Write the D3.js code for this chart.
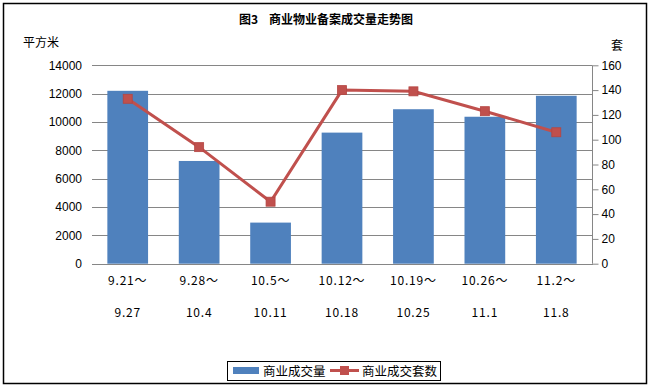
<!DOCTYPE html>
<html>
<head>
<meta charset="utf-8">
<script src="https://cdn.jsdelivr.net/npm/d3@7"></script>
<style>
  body { margin: 0; background: #fff; }
  text { font-family: "Liberation Sans", "Noto Sans CJK SC", sans-serif; }
  .cjk { font-family: "Noto Sans CJK SC", sans-serif; }
</style>
</head>
<body>
<svg id="chart"></svg>
<script>
// data
const periodStart = ["9.21～", "9.28～", "10.5～", "10.12～", "10.19～", "10.26～", "11.2～"];
const periodEnd = ["9.27", "10.4", "10.11", "10.18", "10.25", "11.1", "11.8"];
const areaValues = [12200, 7250, 2900, 9250, 10900, 10370, 11850];
const unitValues = [133, 94, 50, 140, 139, 123, 106];
const leftTicks = [0, 2000, 4000, 6000, 8000, 10000, 12000, 14000];
const rightTicks = [0, 20, 40, 60, 80, 100, 120, 140, 160];

const w = 651, h = 388;
const svg = d3.select("#chart").attr("width", w).attr("height", h);

// outer frame
svg.append("rect")
  .attr("x", 3.5).attr("y", 3.5)
  .attr("width", 643).attr("height", 380)
  .attr("fill", "#fff").attr("stroke", "#000").attr("stroke-width", 1.5);

// scales
const pLeft = 92, pRight = 592, pTop = 65.3, pBottom = 263.7;
const x = d3.scaleBand().domain(periodStart).range([pLeft, pRight]).paddingInner(0.43).paddingOuter(0.215);
const xBand = d3.scaleBand().domain(periodStart).range([pLeft, pRight]);
const yL = d3.scaleLinear().domain([0, 14000]).range([pBottom, pTop]);
const yR = d3.scaleLinear().domain([0, 160]).range([pBottom, pTop]);

// gridlines
svg.append("g")
  .selectAll("line")
  .data(leftTicks.filter(d => d > 0))
  .join("line")
    .attr("x1", pLeft).attr("x2", pRight)
    .attr("y1", d => Math.round(yL(d)) + 0.5).attr("y2", d => Math.round(yL(d)) + 0.5)
    .attr("stroke", "#868686");

// left tick labels
svg.append("g")
  .selectAll("text")
  .data(leftTicks)
  .join("text")
    .attr("x", 82).attr("y", d => yL(d))
    .attr("dy", "0.35em")
    .attr("text-anchor", "end")
    .attr("font-size", 12)
    .attr("fill", "#000")
    .text(d => d);

// bars
svg.append("g")
  .selectAll("rect")
  .data(areaValues)
  .join("rect")
    .attr("x", (d, i) => x(periodStart[i]))
    .attr("width", x.bandwidth())
    .attr("y", d => yL(d))
    .attr("height", d => pBottom - yL(d))
    .attr("fill", "#4F81BD");

// x axis line
svg.append("line")
  .attr("x1", pLeft).attr("x2", pRight + 1)
  .attr("y1", Math.round(pBottom) + 0.5).attr("y2", Math.round(pBottom) + 0.5)
  .attr("stroke", "#868686");

// right axis
const rAxis = svg.append("g").attr("transform", `translate(${pRight + 0.5},0)`)
  .call(d3.axisRight(yR).tickValues(rightTicks).tickSize(6).tickPadding(3));
rAxis.select(".domain").attr("stroke", "#868686").attr("d", `M0,${pTop}V${pBottom}`);
rAxis.selectAll(".tick line").attr("stroke", "#868686");
rAxis.selectAll(".tick text").attr("font-size", 12).attr("fill", "#000")
  .attr("font-family", "Liberation Sans, sans-serif");

// x labels, two lines
const xl = svg.append("g");
xl.selectAll("text.s")
  .data(periodStart)
  .join("text")
    .attr("class", "s cjk")
    .attr("x", d => xBand(d) + xBand.bandwidth() / 2)
    .attr("y", 285)
    .attr("text-anchor", "middle")
    .attr("font-size", 12)
    .attr("letter-spacing", 0.8)
    .text(d => d);
xl.selectAll("text.e")
  .data(periodEnd)
  .join("text")
    .attr("class", "e cjk")
    .attr("x", (d, i) => xBand(periodStart[i]) + xBand.bandwidth() / 2)
    .attr("y", 317)
    .attr("text-anchor", "middle")
    .attr("font-size", 12)
    .attr("letter-spacing", 0.8)
    .text(d => d);

// line series
const line = d3.line()
  .x((d, i) => xBand(periodStart[i]) + xBand.bandwidth() / 2)
  .y(d => yR(d));
svg.append("path")
  .datum(unitValues)
  .attr("d", line)
  .attr("fill", "none")
  .attr("stroke", "#C0504D")
  .attr("stroke-width", 3);
svg.append("g")
  .selectAll("rect")
  .data(unitValues)
  .join("rect")
    .attr("x", (d, i) => xBand(periodStart[i]) + xBand.bandwidth() / 2 - 4.5)
    .attr("y", d => yR(d) - 4.5)
    .attr("width", 9).attr("height", 9)
    .attr("fill", "#C0504D")
    .attr("stroke", "#B54542").attr("stroke-width", 0.8);

// titles
svg.append("text")
  .attr("class", "cjk")
  .attr("x", 326).attr("y", 24)
  .attr("text-anchor", "middle")
  .attr("font-size", 12).attr("font-weight", "bold")
  .text("图3\u00A0\u00A0\u00A0\u00A0商业物业备案成交量走势图");
svg.append("text")
  .attr("class", "cjk")
  .attr("x", 23).attr("y", 47)
  .attr("font-size", 12)
  .text("平方米");
svg.append("text")
  .attr("class", "cjk")
  .attr("x", 611).attr("y", 50)
  .attr("font-size", 12)
  .text("套");

// legend
const lg = svg.append("g");
lg.append("rect")
  .attr("x", 227.5).attr("y", 361.5).attr("width", 213).attr("height", 19)
  .attr("fill", "#fff").attr("stroke", "#000").attr("stroke-width", 1);
lg.append("rect")
  .attr("x", 233).attr("y", 367).attr("width", 26).attr("height", 7)
  .attr("fill", "#4F81BD");
lg.append("text")
  .attr("class", "cjk")
  .attr("x", 263).attr("y", 375.5)
  .attr("font-size", 12.5)
  .text("商业成交量");
lg.append("line")
  .attr("x1", 330).attr("x2", 359).attr("y1", 370.5).attr("y2", 370.5)
  .attr("stroke", "#C0504D").attr("stroke-width", 3);
lg.append("rect")
  .attr("x", 340).attr("y", 366).attr("width", 9).attr("height", 9)
  .attr("fill", "#C0504D");
lg.append("text")
  .attr("class", "cjk")
  .attr("x", 362).attr("y", 375.5)
  .attr("font-size", 12.5)
  .text("商业成交套数");
</script>
</body>
</html>
